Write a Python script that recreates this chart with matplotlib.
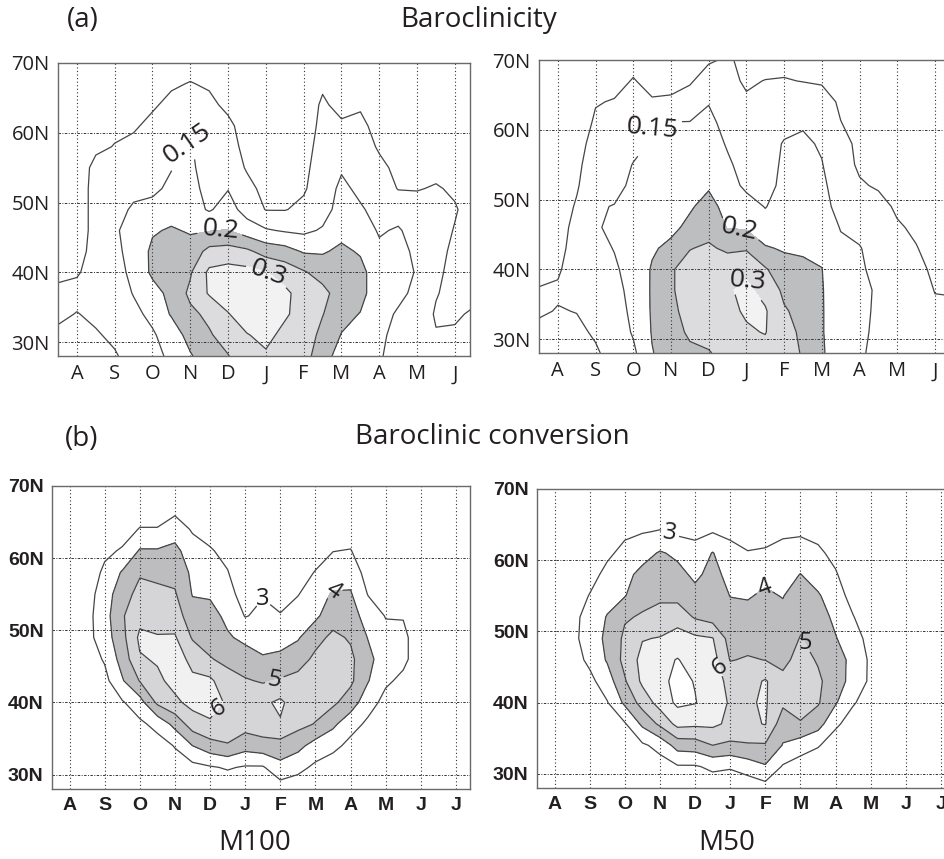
import numpy as np
import matplotlib
matplotlib.use("Agg")
import matplotlib.pyplot as plt

# grid of the fields: x = month position (A=1 ... J=11/12), rows = latitude
lats = [28, 31, 34, 37, 40, 43, 46, 49, 52, 55, 58, 61, 64, 67, 70]
x_top = [0.5, 1.0, 1.5, 2.0, 2.5, 3.0, 3.5, 4.0, 4.5, 5.0, 5.5, 6.0,
         6.5, 7.0, 7.5, 8.0, 8.5, 9.0, 9.5, 10.0, 10.5, 11.0, 11.5]
x_bot = x_top + [12.0, 12.5]

months_top = ["A", "S", "O", "N", "D", "J", "F", "M", "A", "M", "J"]
months_bot = ["A", "S", "O", "N", "D", "J", "F", "M", "A", "M", "J", "J"]
lat_ticks = [30, 40, 50, 60, 70]
lat_labels = ["30N", "40N", "50N", "60N", "70N"]

# baroclinicity (x100), one latitude profile per half month
baro_m100 = [
    [8, 9, 11, 11, 9, 8, 7, 7, 7, 7, 6, 6, 6, 6, 6],
    [8, 9, 9.8, 11.5, 9.5, 8, 7, 7, 7, 7, 6, 6, 6, 6, 6],
    [8, 9.5, 11, 12, 12, 12, 12, 12, 12, 11.5, 9, 8, 7, 7, 6],
    [9.5, 11, 12, 13, 13.5, 14, 14.5, 13, 12, 11, 10.2, 9, 8, 7, 6],
    [12, 13, 14, 15.2, 16, 16.5, 16.5, 15.8, 13.5, 12, 11, 9.5, 8, 7, 6],
    [13.5, 14.5, 16, 18, 21, 21, 19.5, 16.5, 14, 13, 12, 11, 9.5, 8, 7],
    [16, 17, 20.5, 21.5, 22, 22, 20.5, 18, 16, 14.8, 13.5, 12, 11, 9.5, 8],
    [19.5, 22, 24, 26, 24.5, 22, 19.5, 17, 16.5, 16, 15.5, 14.5, 12, 10.2, 8.5],
    [23, 24.5, 26, 30.5, 31, 26.5, 19.8, 14.5, 13.5, 12.5, 12, 11.5, 11, 9.5, 8],
    [24.8, 27, 29.8, 32, 32, 27, 20.2, 17, 14.8, 13, 12, 11, 9, 8, 7],
    [28, 29.8, 32, 33, 31.5, 26, 17.5, 13, 11.5, 9.5, 8.5, 8, 7.5, 7, 6],
    [29.5, 31, 32, 31.5, 30.2, 23, 15.5, 9.8, 8.5, 8, 8, 8, 8, 8.5, 7],
    [28, 29, 30.5, 31, 28, 22, 14.5, 9.8, 8.5, 8, 8, 8, 8, 8, 7],
    [27, 28, 28.5, 28, 25.5, 19.5, 14, 11, 9.5, 9, 8.5, 8, 8, 7.5, 7],
    [22, 23.5, 25.2, 26.5, 23, 19.5, 15.5, 13, 12.5, 12, 11.5, 11, 10.5, 9.5, 8],
    [18, 19.8, 21.5, 22.5, 22.5, 21, 18.5, 17, 16, 14.5, 12, 10.5, 9, 8, 7],
    [17, 18, 19.8, 21.5, 21.5, 19.5, 17.5, 15.5, 14, 13, 12, 11, 9.5, 8.5, 7],
    [15.5, 16, 16.5, 17, 17, 16, 14.5, 13.5, 12.5, 11, 9.5, 8.5, 8, 7.5, 7],
    [13, 13.5, 14.5, 16, 16.5, 16.5, 15.5, 13, 9.8, 9, 8, 7.5, 7, 7, 6.5],
    [12, 12.5, 13, 14, 14.7, 14, 13, 11.5, 9.8, 9, 8, 7.5, 7, 7, 6.5],
    [11, 10.3, 9.5, 10.3, 11, 11.5, 11.5, 11.5, 10.3, 9, 8, 7.5, 7, 7, 6.5],
    [11, 10.5, 9.5, 8.5, 8.5, 9, 9.8, 10.3, 9.5, 8.5, 8, 7.5, 7, 7, 6.5],
    [11.5, 11, 10.5, 9, 8, 8, 8.5, 8.5, 8, 8, 7.5, 7, 7, 6.5, 6.5],
]

baro_m50 = [
    [8, 9, 10.5, 10.2, 9, 8, 7.5, 7, 7, 7, 7, 6.5, 6.5, 6, 6],
    [8, 9, 9.8, 10.5, 9.5, 8.5, 8, 7.5, 7.5, 7, 7, 7, 6.5, 6.5, 6],
    [8.5, 9.2, 10.1, 11.5, 12, 12, 11.5, 10.5, 9.5, 9, 8.5, 8, 7.5, 7, 6.5],
    [9.5, 10.5, 11.5, 12.5, 13, 13.5, 14.5, 14.5, 13.5, 12.5, 11.5, 10.5, 9.8, 8.5, 7.5],
    [11.5, 12, 13, 13.5, 14.3, 15.2, 16, 15.2, 13.5, 12.5, 12, 11, 10.2, 9, 8],
    [14, 15.5, 16, 16.5, 17, 17.5, 17.5, 17, 16, 15.2, 13.5, 12.5, 11.5, 10.2, 9],
    [19.8, 20.3, 20.5, 20.5, 20.4, 19.5, 18.5, 17.5, 16.5, 16, 15.5, 14.8, 10.3, 9, 8.5],
    [22, 23, 24, 24.5, 24.5, 21, 19, 18.5, 18, 17.5, 16, 15.2, 10.5, 9, 8],
    [24, 25.8, 26.5, 27, 27, 24.8, 21, 19.5, 19, 18, 17, 15.2, 12, 9.5, 8.5],
    [24.8, 26, 27, 28, 28, 25.8, 23, 21.5, 19.5, 18.5, 17.5, 16.5, 14.7, 12, 9.5],
    [26, 27.5, 29, 29.5, 28.5, 24, 19.8, 18.5, 17, 15.8, 14.5, 13, 12, 11, 10.5],
    [28, 29.5, 30.5, 31, 29, 24.5, 19.5, 17, 14, 13, 12, 11, 10.5, 9.5, 9],
    [28.5, 30.2, 30.5, 28.5, 25.5, 20.5, 17, 14.8, 13, 12.5, 12, 11.5, 11, 10.1, 8.5],
    [27.5, 26.8, 25.5, 24, 22, 19.5, 18, 17, 16.5, 16, 15.5, 13, 12, 10.2, 9],
    [24.5, 24, 23.5, 23, 21.5, 19, 18, 17, 16.5, 16, 15.8, 14.5, 12, 9.9, 9],
    [20.5, 20.3, 20.3, 20.3, 20.1, 19, 17.5, 16.5, 16, 15.2, 14.5, 13.5, 12, 9.5, 8.5],
    [17.5, 17.5, 17.5, 17, 16.5, 15.8, 14.8, 13.5, 12.5, 12, 11.5, 10.1, 9.3, 8.5, 8],
    [16, 16.5, 16.5, 16, 15.5, 15.2, 14, 12.5, 10.5, 9.3, 9, 8.5, 8, 7.5, 7],
    [13, 13.5, 14, 14.5, 14, 13.5, 12.5, 11.5, 9.5, 9, 8.5, 8, 7.5, 7, 7],
    [12, 12.5, 13, 13, 12.5, 12, 10.5, 9.3, 8.8, 8.5, 8, 7.5, 7, 7, 6.5],
    [11.5, 12, 12, 11.5, 11, 10.2, 9.3, 8.5, 8, 8, 7.5, 7, 7, 6.5, 6.5],
    [11.5, 11, 10.5, 9.9, 9.3, 8.5, 8, 7.5, 7.5, 7, 7, 7, 6.5, 6.5, 6],
    [11.5, 11, 10.5, 9.8, 9, 8.5, 8, 7.5, 7, 7, 7, 6.5, 6.5, 6, 6],
]

# baroclinic conversion, one latitude profile per half month
conv_m100 = [
    [1, 1, 1, 1, 1, 1, 1, 1, 1, 1, 1, 1, 1, 1, 1],
    [1.2, 1.3, 1.4, 1.5, 1.6, 1.8, 1.9, 2, 2, 2, 1.9, 1.7, 1.5, 1.3, 1.2],
    [1.5, 1.5, 1.8, 2, 2.2, 2.4, 2.5, 2.7, 2.7, 2.6, 2.4, 2.1, 1.8, 1.5, 1.5],
    [1.5, 1.8, 2, 2.3, 2.6, 2.7, 3.1, 3.5, 3.6, 3.5, 3.2, 2.8, 2.3, 1.8, 1.5],
    [1.8, 2.2, 2.5, 2.7, 2.9, 3.9, 4.4, 4.7, 4.9, 4.6, 4.1, 3.1, 2.6, 2, 1.5],
    [2, 2.3, 2.6, 2.8, 3.6, 5.05, 5.9, 6.2, 5.7, 5.3, 4.9, 4.1, 3.05, 2.5, 2],
    [2.2, 2.4, 2.6, 3.3, 5.2, 5.8, 6.1, 6.05, 5.7, 5.2, 4.8, 4.1, 3.05, 2.5, 2],
    [2.3, 2.6, 3.05, 4.3, 5.8, 6.3, 6.5, 6.1, 5.5, 5.1, 4.7, 4.3, 3.5, 2.7, 2.2],
    [2.3, 2.7, 4.0, 5.5, 6.3, 6.2, 5.7, 4.9, 4.4, 3.95, 3.8, 3.4, 2.9, 2.4, 2],
    [2.2, 2.9, 4.6, 5.9, 6.3, 6.2, 5.05, 4.7, 4.3, 3.9, 3.5, 3.1, 2.6, 2.2, 2],
    [2.3, 3.1, 4.9, 5.7, 5.9, 5.3, 4.8, 4.1, 3.8, 3.4, 3.05, 2.7, 2.3, 2, 1.8],
    [2.3, 2.9, 4.4, 5.4, 5.5, 5.1, 4.4, 3.8, 2.95, 2.5, 2.2, 2, 1.8, 1.6, 1.5],
    [2.4, 2.9, 4.6, 5.6, 5.8, 4.9, 4.1, 3.6, 3.2, 2.95, 2.7, 2.4, 2.1, 1.8, 1.6],
    [2.5, 3.7, 4.6, 5.9, 6.2, 5.1, 4.3, 3.5, 3.05, 2.7, 2.5, 2.2, 2, 1.8, 1.6],
    [2.4, 3.3, 4.3, 5.3, 5.4, 5.3, 4.6, 3.9, 3.5, 2.95, 2.6, 2.3, 2, 1.8, 1.6],
    [2.2, 2.8, 3.6, 4.95, 5.4, 5.5, 5.2, 4.7, 3.8, 3.6, 3.05, 2.6, 2.2, 1.9, 1.6],
    [1.9, 2.4, 3.3, 4.2, 5.2, 5.6, 5.5, 5.2, 4.6, 4.1, 3.5, 2.98, 2.5, 2.1, 1.8],
    [1.6, 2.1, 2.7, 3.4, 4.5, 5.2, 5.2, 4.9, 4.4, 4.1, 3.6, 3.05, 2.5, 2, 1.7],
    [1.4, 1.8, 2.3, 2.8, 3.4, 4.05, 4.3, 3.95, 3.6, 2.95, 2.6, 2.3, 2, 1.7, 1.5],
    [1.2, 1.5, 1.9, 2.3, 2.7, 3.15, 3.4, 3.3, 2.95, 2.5, 2.2, 2, 1.8, 1.5, 1.4],
    [1.1, 1.3, 1.6, 1.9, 2.3, 2.8, 3.2, 3.2, 2.95, 2.4, 2, 1.8, 1.6, 1.4, 1.3],
    [1, 1.2, 1.4, 1.7, 2, 2.3, 2.5, 2.5, 2.3, 2, 1.8, 1.6, 1.4, 1.3, 1.2],
    [1, 1.1, 1.2, 1.4, 1.6, 1.8, 2, 2, 1.9, 1.7, 1.5, 1.4, 1.3, 1.2, 1.1],
    [1, 1, 1.1, 1.2, 1.3, 1.4, 1.5, 1.5, 1.5, 1.4, 1.3, 1.2, 1.1, 1, 1],
    [1, 1, 1, 1, 1.1, 1.2, 1.2, 1.2, 1.2, 1.1, 1.1, 1, 1, 1, 1],
]

conv_m50 = [
    [1, 1, 1, 1, 1, 1, 1, 1, 1, 1, 1, 1, 1, 1, 1],
    [1.1, 1.2, 1.3, 1.4, 1.5, 1.6, 1.7, 1.8, 1.8, 1.7, 1.6, 1.5, 1.3, 1.2, 1.1],
    [1.2, 1.4, 1.6, 1.8, 2.1, 2.4, 2.6, 2.7, 2.6, 2.4, 2.1, 1.8, 1.5, 1.3, 1.2],
    [1.3, 1.6, 1.9, 2.2, 2.5, 2.75, 3.2, 3.5, 3.5, 3.05, 2.6, 2.2, 1.8, 1.5, 1.3],
    [1.6, 2.0, 2.4, 2.7, 2.95, 3.5, 4.1, 4.2, 4.05, 3.7, 3.3, 2.8, 2.3, 1.8, 1.5],
    [1.9, 2.3, 2.6, 2.9, 4.2, 4.9, 5.3, 5.2, 4.9, 3.95, 3.7, 3.3, 2.8, 2.3, 1.8],
    [2.2, 2.5, 2.85, 4.2, 5.4, 6.2, 6.3, 5.95, 5.1, 4.7, 4.3, 3.6, 2.95, 2.5, 2],
    [2.3, 2.6, 3.3, 5.2, 6.4, 6.7, 6.7, 6.05, 5.4, 4.8, 4.6, 4.1, 3.05, 2.5, 2.1],
    [2.4, 2.9, 4.4, 6.3, 7.2, 7.3, 7.05, 6.4, 5.6, 4.7, 4.3, 3.8, 2.8, 2.4, 2],
    [2.4, 2.9, 4.5, 6.2, 7.05, 6.95, 6.6, 6.2, 4.9, 4.3, 3.8, 3.3, 2.8, 2.4, 2],
    [2.4, 3.2, 5.0, 6.2, 6.5, 6.5, 6.4, 6.05, 4.6, 4.5, 4.3, 4.05, 2.95, 2.5, 2.1],
    [2.3, 3.1, 4.8, 5.8, 5.9, 5.7, 4.95, 4.6, 4.3, 3.98, 3.7, 3.3, 2.8, 2.4, 2],
    [2.3, 3.5, 4.9, 5.8, 5.9, 5.6, 5.1, 4.6, 4.2, 3.95, 3.6, 3.05, 2.6, 2.2, 1.9],
    [2.6, 3.9, 4.9, 6.05, 6.1, 6.1, 4.98, 4.6, 4.3, 4.1, 3.85, 3.1, 2.7, 2.2, 1.9],
    [2.3, 2.9, 3.95, 4.4, 5.2, 5.3, 4.7, 4.4, 4.2, 3.97, 3.7, 3.3, 2.85, 2.3, 1.9],
    [2.0, 2.5, 3.5, 4.9, 5.5, 5.6, 5.4, 5.05, 4.7, 4.4, 4.02, 3.5, 2.85, 2.4, 2],
    [1.7, 2.2, 3.1, 4.4, 5.1, 5.2, 4.9, 4.6, 4.4, 4.1, 3.6, 3.2, 2.7, 2.2, 1.8],
    [1.5, 1.9, 2.4, 3.2, 4.1, 4.4, 4.3, 4.05, 3.8, 3.5, 3.1, 2.7, 2.3, 1.9, 1.6],
    [1.3, 1.6, 2.0, 2.5, 3.1, 3.7, 3.8, 3.5, 3.05, 2.6, 2.3, 2.0, 1.8, 1.6, 1.4],
    [1.2, 1.4, 1.7, 2.1, 2.5, 2.8, 2.8, 2.6, 2.3, 2.0, 1.8, 1.6, 1.5, 1.4, 1.3],
    [1.1, 1.3, 1.5, 1.8, 2.1, 2.3, 2.3, 2.2, 2, 1.8, 1.6, 1.5, 1.4, 1.3, 1.2],
    [1, 1.2, 1.3, 1.5, 1.7, 1.9, 1.9, 1.8, 1.7, 1.6, 1.5, 1.4, 1.3, 1.2, 1.1],
    [1, 1.1, 1.2, 1.3, 1.4, 1.5, 1.5, 1.5, 1.4, 1.4, 1.3, 1.2, 1.1, 1.1, 1],
    [1, 1, 1.1, 1.2, 1.2, 1.3, 1.3, 1.3, 1.2, 1.2, 1.1, 1.1, 1, 1, 1],
    [1, 1, 1, 1, 1, 1, 1, 1, 1, 1, 1, 1, 1, 1, 1],
]

baro_lines = [0.1, 0.15, 0.2, 0.25, 0.3]
baro_fill = [0.2, 0.25, 0.3, 1.0]
conv_lines = [3, 4, 5, 6, 7]
conv_fill = [4, 5, 6, 7, 20]

TXT = "#231f20"
LINE = "#454545"


def draw_panel(ax, xs, field, fill_levels, fill_colors, line_levels, labels,
               months, xmax, tickfont, labfont, fmt):
    X, Y = np.meshgrid(xs, lats)
    Z = np.array(field).T
    ax.contourf(X, Y, Z, levels=fill_levels, colors=fill_colors, zorder=1)
    for lev in line_levels:
        cs = ax.contour(X, Y, Z, levels=[lev], colors=LINE,
                        linewidths=0.9, zorder=2)
        if lev in labels:
            pos, rot = labels[lev]
            txts = ax.clabel(cs, manual=[pos], inline=True, inline_spacing=2,
                             fmt=fmt, fontsize=labfont["size"], colors=TXT)
            for t in txts:
                t.set_family(labfont["family"])
                t.set_rotation(rot)
    ax.set_xlim(0.5, xmax)
    ax.set_ylim(28, 70)
    ax.set_xticks(range(1, len(months) + 1))
    ax.set_xticklabels(months)
    ax.set_yticks(lat_ticks)
    ax.set_yticklabels(lat_labels)
    for t in ax.get_xticklabels() + ax.get_yticklabels():
        t.set_fontfamily(tickfont["family"])
        t.set_fontsize(tickfont["size"])
        t.set_fontweight(tickfont["weight"])
        t.set_color(TXT)
    ax.tick_params(length=0, pad=6)
    ax.xaxis.grid(True, color="#333333", linestyle=(0, (1, 2.2)), linewidth=0.8)
    ax.yaxis.grid(True, color="#333333", linestyle=(0, (2.5, 1.5, 1, 1.5)),
                  linewidth=0.7)
    for s in ax.spines.values():
        s.set_color("#6a6a6a")
        s.set_linewidth(1.0)


fig = plt.figure(figsize=(9.44, 8.59), dpi=100)
W, H = 944.0, 859.0


def add_ax(left, top, right, bottom):
    return fig.add_axes([left / W, 1 - bottom / H, (right - left) / W,
                         (bottom - top) / H])


top_tick = {"family": "Open Sans", "size": 14.5, "weight": "normal"}
bot_tick = {"family": "Liberation Sans", "size": 14, "weight": "bold"}
top_lab = {"family": "Open Sans", "size": 19}
bot_lab = {"family": "Open Sans", "size": 17}
grays_top = ["#bdbec0", "#dcdcde", "#f2f2f2"]
grays_bot = ["#bdbdbf", "#d5d5d7", "#f1f1f1", "#ffffff"]


def fmt_top(v):
    return "%g" % round(v, 2)


def fmt_bot(v):
    return "%d" % round(v)


ax1 = add_ax(58, 63, 470, 356)
draw_panel(ax1, x_top, np.array(baro_m100) / 100, baro_fill, grays_top,
           baro_lines,
           {0.15: ((3.7, 59), 35), 0.2: ((4.8, 45.9), -5), 0.3: ((6.0, 39.5), -20)},
           months_top, 11.4, top_tick, top_lab, fmt_top)

ax2 = add_ax(539, 60, 950, 353)
draw_panel(ax2, x_top, np.array(baro_m50) / 100, baro_fill, grays_top,
           baro_lines,
           {0.15: ((3.4, 60.5), -5), 0.2: ((5.8, 44.8), -12), 0.3: ((6.05, 38.3), -5)},
           months_top, 11.4, top_tick, top_lab, fmt_top)

ax3 = add_ax(52, 486, 470, 789)
draw_panel(ax3, x_bot, conv_m100, conv_fill, grays_bot, conv_lines,
           {3: ((6.8, 57), 0), 4: ((8.5, 55.6), -35), 5: ((6.8, 43.6), -10),
            6: ((5.4, 38.5), 30)},
           months_bot, 12.4, bot_tick, bot_lab, fmt_bot)

ax4 = add_ax(537, 489, 955, 788)
draw_panel(ax4, x_bot, conv_m50, conv_fill, grays_bot, conv_lines,
           {3: ((4.3, 64), -10), 4: ((6.95, 56.3), 20), 5: ((8.1, 48.2), 0),
            6: ((5.7, 45), 35)},
           months_bot, 12.4, bot_tick, bot_lab, fmt_bot)

title_kw = dict(fontfamily="Open Sans", fontsize=20, color=TXT,
                ha="center", va="center")
fig.text(83 / W, 1 - 20 / H, "(a)", **title_kw)
fig.text(479 / W, 1 - 20 / H, "Baroclinicity", **title_kw)
fig.text(82 / W, 1 - 439 / H, "(b)", **title_kw)
fig.text(492 / W, 1 - 437 / H, "Baroclinic conversion", **title_kw)
fig.text(255 / W, 1 - 843 / H, "M100", **title_kw)
fig.text(727 / W, 1 - 843 / H, "M50", **title_kw)

fig.savefig("out.png", dpi=100)
